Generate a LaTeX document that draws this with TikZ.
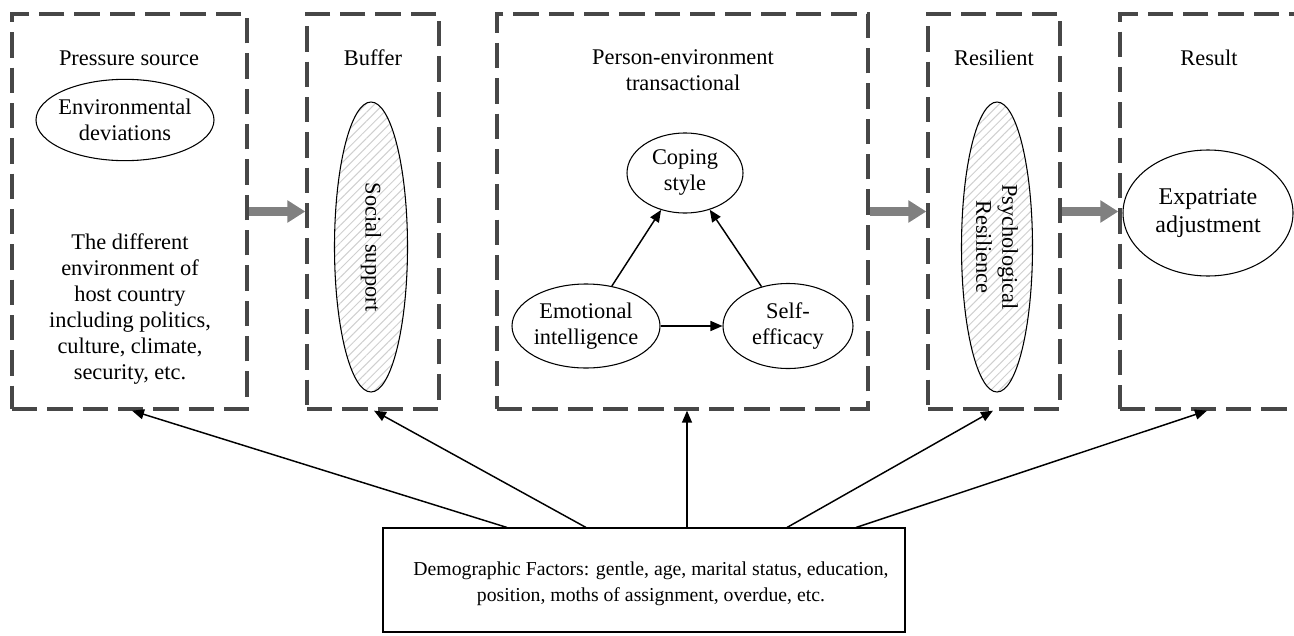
\documentclass[tikz,border=0pt]{standalone}
\usepackage{fontspec}
\setmainfont{Liberation Serif}
\usetikzlibrary{arrows.meta,shapes.geometric,patterns.meta,fit}
\definecolor{dashgray}{HTML}{474747}
\definecolor{arrowgray}{HTML}{808080}
\definecolor{hatchgray}{HTML}{CFCFCF}
\begin{document}
\begin{tikzpicture}[x=0.75pt,y=-0.75pt,
  dbox/.style={draw=dashgray, line width=2.5pt, dash pattern=on 19pt off 7.5pt, inner sep=0pt},
  ell/.style={ellipse, draw, line width=0.8pt, inner sep=0pt, align=center, fill=white},
  hatch/.style={pattern={Lines[angle=45,distance=4.6pt,line width=0.75pt]}, pattern color=hatchgray},
  garrow/.style={draw=arrowgray, line width=6.75pt, -{Triangle[length=13.5pt,width=16pt]}},
  barrow/.style={line width=1.1pt, -{Triangle[length=9pt,width=7.5pt]}},
  lbl/.style={align=center, inner sep=0pt},
  font=\fontsize{16.8}{19.5}\selectfont]
\useasboundingbox (0,0) rectangle (1294,635);
\clip (0,0) rectangle (1294,635);
% dashed stage boxes
\node[dbox, fit={(12,14) (247,409)}] (b1) {};
\node[dbox, fit={(307,14) (439,409)}] (b2) {};
\node[dbox, fit={(497,14) (868,409)}] (b3) {};
\node[dbox, fit={(928,14) (1060,409)}] (b4) {};
\node[dbox, fit={(1120,14) (1320,409)}] (b5) {};
% titles
\node[lbl] (t1) at (129,58) {Pressure source};
\node[lbl] (t2) at (373,58) {Buffer};
\node[lbl] (t3) at (683,70) {Person-environment\\transactional};
\node[lbl] (t4) at (994,58) {Resilient};
\node[lbl] (t5) at (1209,58) {Result};
% box 1 content
\node[ell, inner xsep=-6pt, minimum width=133.5pt, minimum height=61pt] (env) at (125,120) {Environmental\\deviations};
\node[lbl] (envtxt) at (130,309) {The different\\environment of\\host country\\including politics,\\culture, climate,\\security, etc.};
% box 2 content
\node[ell, hatch, minimum width=54.75pt, minimum height=217.5pt] (ss) at (371,247) {};
\node[lbl, rotate=-90] (sst) at (ss) {Social support};
% box 3 content
\node[ell, minimum width=87pt, minimum height=60pt] (cs) at (685,173) {Coping\\style};
\node[ell, minimum width=111pt, minimum height=63pt] (ei) at (586,326) {Emotional\\intelligence};
\node[ell, minimum width=97.5pt, minimum height=63.75pt] (se) at (788,326) {Self-\\efficacy};
\draw[barrow] (ei) -- (cs);
\draw[barrow] (se) -- (cs);
\draw[barrow] (ei) -- (se);
% box 4 content
\node[ell, hatch, minimum width=53.25pt, minimum height=217.5pt] (pr) at (997,247) {};
\node[lbl, rotate=-90] (prt) at (pr) {Psychological\\Resilience};
% box 5 content
\node[ell, minimum width=127.5pt, minimum height=94.5pt, font=\fontsize{18}{21}\selectfont] (ea) at (1208,213) {Expatriate\\adjustment};
% gray flow arrows
\draw[garrow] (b1.east) -- (b2.west);
\draw[garrow] (b3.east) -- (b4.west);
\draw[garrow] (b4.east) -- (b5.west);
% demographic box
\node[draw, line width=0.8pt, fit={(383,528) (905,632)}, inner sep=0pt] (demo) {};
\node[lbl, font=\fontsize{14.8}{19.5}\selectfont] (demotxt) at (651,584) {Demographic Factors: gentle, age, marital status, education,\\position, moths of assignment, overdue, etc.};
% demographic arrows
\draw[barrow] (demo.north -| 507,0) -- (b1.south -| 132,0);
\draw[barrow] (demo.north -| 586,0) -- (b2.south -| 374,0);
\draw[barrow] (demo.north -| 687,0) -- (b3.south -| 687,0);
\draw[barrow] (demo.north -| 787,0) -- (b4.south -| 993,0);
\draw[barrow] (demo.north -| 856,0) -- (b5.south -| 1207,0);
\end{tikzpicture}
\end{document}
